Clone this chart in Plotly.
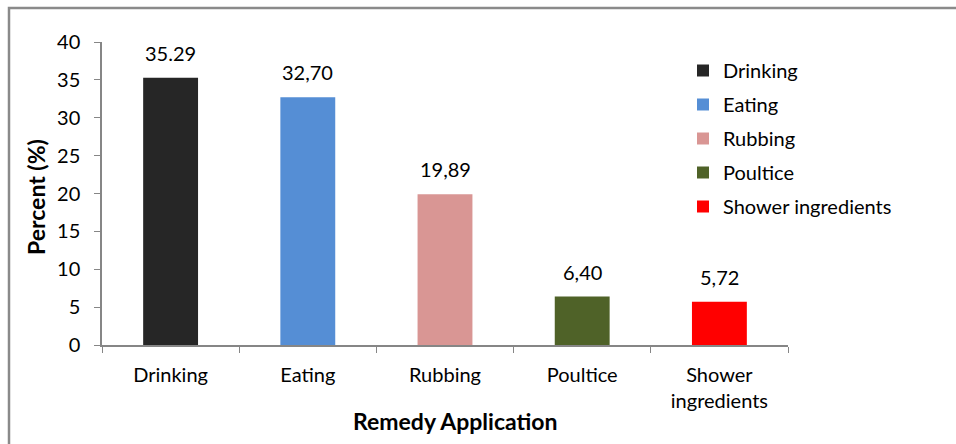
import plotly.graph_objects as go

categories = ["Drinking", "Eating", "Rubbing", "Poultice", "Shower ingredients"]
tick_labels = ["Drinking", "Eating", "Rubbing", "Poultice", "Shower<br>ingredients"]
values = [35.29, 32.70, 19.89, 6.40, 5.72]
value_labels = ["35.29", "32,70", "19,89", "6,40", "5,72"]
colors = ["#262626", "#558ED5", "#D99694", "#4F6228", "#FF0000"]

W, H = 956, 444
L, R, T, B = 102, 168, 42, 99
PW, PH = W - L - R, H - T - B

def px(x):
    return (x - L) / PW

def py(y):
    return (H - B - y) / PH

FONT = "Lato"
FS = 20
fig = go.Figure()
for i, c in enumerate(categories):
    fig.add_trace(go.Bar(
        x=[tick_labels[i]], y=[values[i]], name=c,
        marker=dict(color=colors[i], line=dict(width=0)),
        width=0.4, legendgroup=c,
    ))
    fig.add_annotation(x=tick_labels[i], y=values[i], text=value_labels[i],
                       showarrow=False, yanchor="bottom", yshift=11,
                       font=dict(family=FONT, size=FS, color="#000"))

fig.update_layout(
    width=W, height=H,
    margin=dict(l=L, r=R, t=T, b=B),
    paper_bgcolor="white", plot_bgcolor="white",
    barmode="overlay",
    font=dict(family=FONT, size=FS, color="#000"),
    showlegend=True,
    legend=dict(x=px(683), y=py(51), xanchor="left", yanchor="top",
                font=dict(family=FONT, size=FS), tracegroupgap=5,
                bgcolor="rgba(0,0,0,0)"),
    xaxis=dict(showline=True, linecolor="#868686", linewidth=1.5,
               ticks="outside", tickson="boundaries", ticklen=6,
               tickcolor="#868686", ticklabelstandoff=11,
               showgrid=False, zeroline=False,
               tickfont=dict(family=FONT, size=FS)),
    yaxis=dict(range=[0, 40], dtick=5, showline=True, linecolor="#868686",
               linewidth=1.5, ticks="outside", ticklen=6, tickcolor="#868686",
               showgrid=False, zeroline=False, ticklabelstandoff=10,
               tickfont=dict(family=FONT, size=FS)),
    shapes=[dict(type="rect", xref="paper", yref="paper",
                 x0=px(9), x1=px(970), y0=py(470), y1=py(8),
                 line=dict(color="#8a8a8a", width=2.5), layer="below")],
    annotations=list(fig.layout.annotations) + [
        dict(text="<b>Remedy Application</b>", xref="paper", yref="paper",
             x=px(455), y=py(421), xanchor="center", yanchor="middle",
             showarrow=False, font=dict(family=FONT, size=23)),
        dict(text="<b>Percent (%)</b>", xref="paper", yref="paper",
             x=px(36), y=py(197), xanchor="center", yanchor="middle",
             showarrow=False, textangle=-90,
             font=dict(family=FONT, size=23)),
    ],
)

fig.write_html("out.html")
